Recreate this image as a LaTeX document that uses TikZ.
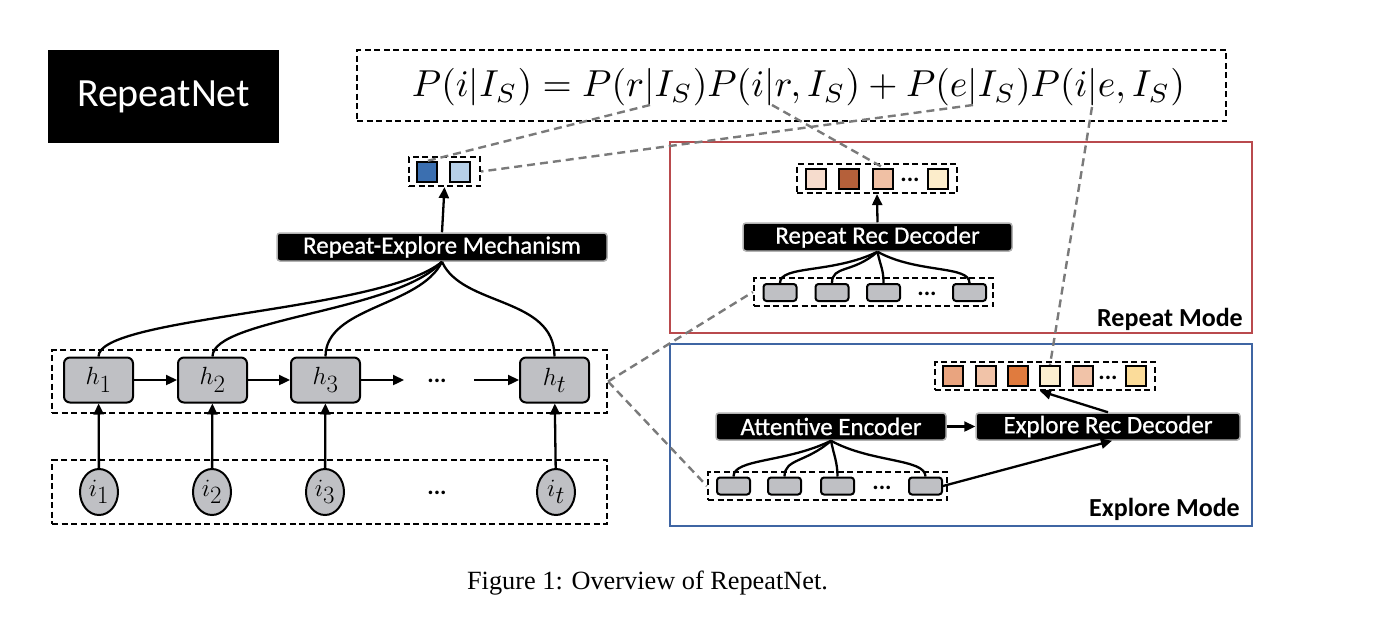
\documentclass[tikz,border=0pt]{standalone}
\usepackage{fontspec}
\usepackage{graphicx}
\usetikzlibrary{arrows.meta,shapes.geometric,calc}
\newfontfamily\calfont{Carlito}
\newfontfamily\calfontb[FakeBold=0.8]{Carlito}
\newfontfamily\capfont{Liberation Serif}
\definecolor{boxgrey}{HTML}{BFC0C4}
\definecolor{dblue}{HTML}{3B6FB0}
\definecolor{lblue}{HTML}{B7D0E8}
\definecolor{redbox}{HTML}{B94A4D}
\definecolor{bluebox}{HTML}{3F65A3}
\definecolor{dashgrey}{HTML}{7A7A7A}
\definecolor{rA}{HTML}{F6DCCD}
\definecolor{rB}{HTML}{B5603A}
\definecolor{rC}{HTML}{F0C0A4}
\definecolor{rD}{HTML}{FCEDCB}
\definecolor{eA}{HTML}{E9A47F}
\definecolor{eB}{HTML}{F1C3A8}
\definecolor{eC}{HTML}{E07B3E}
\definecolor{eD}{HTML}{FCEFD0}
\definecolor{eF}{HTML}{FBDC9A}
\tikzset{
  dbox/.style={draw, line width=2.2pt, dash pattern=on 6pt off 3.5pt, minimum width=#1, inner sep=0pt},
  blabel/.style={fill=black, draw=gray!60, line width=1.5pt, rounded corners=3pt, text=white, font=\calfontb\fontsize{25}{28}\selectfont, inner sep=0pt},
  hnode/.style={draw, fill=boxgrey, line width=2pt, rounded corners=6pt, minimum width=69pt, minimum height=45pt, inner sep=0pt, font=\fontsize{34}{36}\selectfont},
  inode/.style={draw, fill=boxgrey, line width=2pt, ellipse, minimum width=38pt, minimum height=46pt, inner sep=0pt, font=\fontsize{33}{35}\selectfont},
  gsq/.style={draw, fill=boxgrey, line width=2pt, rounded corners=3pt, minimum width=33pt, minimum height=17pt, inner sep=0pt},
  csq/.style={draw, fill=#1, line width=2pt, minimum width=20pt, minimum height=20pt, inner sep=0pt},
  conn/.style={line width=2.3pt},
  arr/.style={line width=2.3pt, -{Triangle[length=11pt,width=10pt]}},
  gdash/.style={draw=dashgrey, line width=2.4pt, dash pattern=on 8pt off 5pt},
  dotsn/.style={font=\calfont\bfseries\fontsize{24}{26}\selectfont, inner sep=0pt},
  modelabel/.style={font=\calfont\bfseries\fontsize{26}{28}\selectfont, inner sep=0pt},
}
\begin{document}
\begin{tikzpicture}[x=1pt,y=-1pt]
\useasboundingbox (0,0) rectangle (1382,622);
% title
\node[fill=black, minimum width=231pt, minimum height=93pt, text=white, font=\calfont\fontsize{40}{44}\selectfont, inner sep=0pt] (title) at (163.5,96.5) {RepeatNet};
% equation
\node[dbox=869pt, minimum height=71pt] (eqbox) at (791.5,85.5) {};
\node[inner sep=0pt] (eq) at (798.5,87) {\resizebox{773pt}{!}{$P(i|I_S) = P(r|I_S)P(i|r,I_S) + P(e|I_S)P(i|e,I_S)$}};
\coordinate (barR) at (650,105);
\coordinate (barIR) at (772,105);
\coordinate (barE) at (973,105);
\coordinate (barIE) at (1092,107);
% mechanism output
\node[dbox=71pt, minimum height=29pt] (mout) at (444.5,171.5) {};
\node[csq=dblue] (sqA) at (427,172) {};
\node[csq=lblue] (sqB) at (460,172) {};
\node[blabel, minimum width=330pt, minimum height=28pt] (mech) at (442,247) {Repeat-Explore Mechanism};
\draw[arr] (mech.north) -- (mout.south);
% h row
\node[dbox=555pt, minimum height=63pt] (hbox) at (329.5,381.5) {};
\node[hnode] (h1) at (98.5,380) {$h_1$};
\node[hnode] (h2) at (212.5,380) {$h_2$};
\node[hnode] (h3) at (325.5,380) {$h_3$};
\node[hnode] (ht) at (554.5,380) {$h_t$};
\node[dotsn] (hdots) at (437,381) {...};
\coordinate (ha) at (404,380);
\coordinate (hb) at (474,380);
\draw[arr] (h1) -- (h2);
\draw[arr] (h2) -- (h3);
\draw[arr] (h3.east) -- (ha);
\draw[arr] (hb) -- (ht.west);
% i row
\node[dbox=555pt, minimum height=64pt] (ibox) at (329.5,492) {};
\node[inode] (i1) at (99,492) {$i_1$};
\node[inode] (i2) at (212,492) {$i_2$};
\node[inode] (i3) at (325,492) {$i_3$};
\node[inode] (it) at (556,492) {$i_t$};
\node[dotsn] (idots) at (437,493) {...};
\draw[arr] (i1) -- (h1);
\draw[arr] (i2) -- (h2);
\draw[arr] (i3) -- (h3);
\draw[arr] (it) -- (ht);
% curves to mechanism
\draw[conn] (h1.north) .. controls +(0,-40) and +(-60,50) .. (mech.south);
\draw[conn] (h2.north) .. controls +(0,-38) and +(-45,50) .. (mech.south);
\draw[conn] (h3.north) .. controls +(0,-50) and +(-22,45) .. (mech.south);
\draw[conn] (ht.north) .. controls +(0,-60) and +(20,45) .. (mech.south);
% Repeat mode
\node[draw=redbox, line width=2.2pt, minimum width=582pt, minimum height=191pt, inner sep=0pt] (rbox) at (961,237.5) {};
\node[modelabel, anchor=base east] (rlab) at (1243,326) {Repeat Mode};
\node[dbox=160pt, minimum height=29pt] (rout) at (877,178.5) {};
\node[csq=rA] (rs1) at (815.5,178.5) {};
\node[csq=rB] (rs2) at (848.5,178.5) {};
\node[csq=rC] (rs3) at (883,178.5) {};
\node[dotsn] (rsd) at (910,180) {...};
\node[csq=rD] (rs4) at (938,178.5) {};
\node[blabel, minimum width=269pt, minimum height=28pt] (rdec) at (877.5,237) {Repeat Rec Decoder};
\draw[arr] (rdec.north) -- (rout.south);
\node[dbox=239pt, minimum height=28pt] (rbot) at (873.5,292) {};
\node[gsq] (rg1) at (780,292.5) {};
\node[gsq] (rg2) at (832,292.5) {};
\node[gsq] (rg3) at (883.5,292.5) {};
\node[dotsn] (rgd) at (927,294) {...};
\node[gsq] (rg4) at (969.5,292.5) {};
\draw[conn] (rg1.north) .. controls +(0,-18) and +(-45,22) .. (rdec.south);
\draw[conn] (rg2.north) .. controls +(0,-18) and +(-25,22) .. (rdec.south);
\draw[conn] (rg3.north) .. controls +(0,-14) and +(3,15) .. (rdec.south);
\draw[conn] (rg4.north) .. controls +(0,-18) and +(40,22) .. (rdec.south);
% Explore mode
\node[draw=bluebox, line width=2.2pt, minimum width=582pt, minimum height=182pt, inner sep=0pt] (ebox) at (961,435) {};
\node[modelabel, anchor=base east] (elab) at (1240,516) {Explore Mode};
\node[dbox=220pt, minimum height=28pt] (eout) at (1045,376) {};
\node[csq=eA] (es1) at (953,376) {};
\node[csq=eB] (es2) at (986,376) {};
\node[csq=eC] (es3) at (1018,376) {};
\node[csq=eD] (es4) at (1050,376) {};
\node[csq=eB] (es5) at (1083,376) {};
\node[dotsn] (esd) at (1108,378) {...};
\node[csq=eF] (es6) at (1135.5,376) {};
\node[blabel, minimum width=230pt, minimum height=27pt] (att) at (831,426.5) {Attentive Encoder};
\node[blabel, minimum width=264pt, minimum height=27pt] (edec) at (1108,426.5) {Explore Rec Decoder};
\draw[arr] (att.east) -- (edec.west);
\coordinate (eoutin) at (1040,391);
\draw[arr] (edec.north) -- (eoutin);
\node[dbox=239pt, minimum height=28pt] (ebot) at (827.5,486) {};
\node[gsq] (eg1) at (733.5,486) {};
\node[gsq] (eg2) at (784.5,486) {};
\node[gsq] (eg3) at (837.5,486) {};
\node[dotsn] (egd) at (882,488) {...};
\node[gsq] (eg4) at (925.5,486) {};
\draw[conn] (eg1.north) .. controls +(0,-18) and +(-45,22) .. (att.south);
\draw[conn] (eg2.north) .. controls +(0,-18) and +(-25,22) .. (att.south);
\draw[conn] (eg3.north) .. controls +(0,-14) and +(3,15) .. (att.south);
\draw[conn] (eg4.north) .. controls +(0,-18) and +(40,22) .. (att.south);
\draw[arr] (eg4.east) -- ($(edec.south)+(4,0)$);
% grey dashed links
\draw[gdash] (barR) -- (sqA.north);
\draw[gdash] (barE) -- (mout.east);
\draw[gdash] (barIR) -- (rs3.north);
\draw[gdash] (barIE) -- (es4.north);
\draw[gdash] (hbox.east) -- (rbot.west);
\draw[gdash] (hbox.east) -- (ebot.west);
% caption
\node[font=\capfont\fontsize{26.3}{29}\selectfont, inner sep=0pt] (cap) at (647.5,583) {Figure 1: Overview of RepeatNet.};
\end{tikzpicture}
\end{document}
